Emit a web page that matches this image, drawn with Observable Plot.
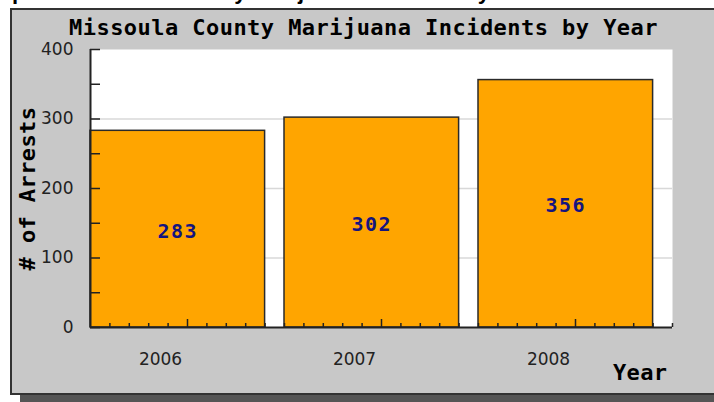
<!DOCTYPE html>
<html><head><meta charset="utf-8">
<script src="https://cdn.jsdelivr.net/npm/d3@7"></script>
<script src="https://cdn.jsdelivr.net/npm/@observablehq/plot@0.6"></script>
<style>
body{margin:0;width:714px;height:402px;overflow:hidden;background:#fff;position:relative;}
#top{position:absolute;left:-26px;top:-21px;font:bold 22px "Liberation Sans";white-space:nowrap;color:#000;}
#panel{position:absolute;left:10px;top:8px;width:720px;height:383px;background:#c8c8c8;border:2px solid #333;box-shadow:10px 8px 0 #555;}
#title{position:absolute;left:0;width:727px;top:15px;text-align:center;font:bold 22px "DejaVu Sans Mono";letter-spacing:0.45px;color:#000;white-space:nowrap;}
#chart{position:absolute;left:0;top:0;}
</style></head><body>
<div id="top">Graph 1: Missoula County Marijuana Incidents by Year</div>
<div id="panel"></div>
<div id="title">Missoula County Marijuana Incidents by Year</div>
<div id="chart"></div>
<script>
const years = ["2006", "2007", "2008"];
const arrests = [283, 302, 356];
const yTicks = [0, 100, 200, 300, 400];
const yMinorTicks = [0, 50, 100, 150, 200, 250, 300, 350, 400];
const gridValues = [100, 200, 300];
const yLabel = "# of Arrests";
const xLabel = "Year";

const data = years.map((year, i) => ({i, year, value: arrests[i]}));
const W = 714, H = 402, mL = 90, mR = 42, mT = 49, mB = 75;
const plotW = W - mL - mR, plotH = H - mT - mB;
const barFraction = 0.9;
const xMinor = d3.range(1, years.length * 10 + 1).map(k => k / 10).filter(v => Math.abs(v - Math.floor(v) - 0.5) > 1e-6);
const xMajor = years.map((_, i) => i + 0.5);

const chart = Plot.plot({
  width: W, height: H,
  marginLeft: mL, marginRight: mR, marginTop: mT, marginBottom: mB,
  style: {background: "transparent", overflow: "visible"},
  x: {type: "linear", domain: [0, years.length], axis: null},
  y: {domain: [0, 400], axis: null},
  marks: [
    Plot.frame({fill: "white", stroke: "none"}),
    Plot.gridY(gridValues, {stroke: "#d8d8d8", strokeOpacity: 1, strokeWidth: 1.5}),
    Plot.rectY(data, {x1: d => d.i, x2: d => d.i + barFraction, y: "value", fill: "#ffa500", stroke: "#2a2a2a", strokeWidth: 1.5}),
    Plot.tickY(yMinorTicks, {y: d => d, stroke: "#222", strokeWidth: 1.5, insetRight: plotW - 10}),
    Plot.tickX(xMinor, {x: d => d, stroke: "#222", strokeWidth: 1.5, insetTop: plotH - 4}),
    Plot.tickX(xMajor, {x: d => d, stroke: "#222", strokeWidth: 1.5, insetTop: plotH - 8}),
    Plot.ruleY([0], {stroke: "#222", strokeWidth: 2}),
    Plot.ruleX([0], {stroke: "#222", strokeWidth: 2}),
    Plot.axisY(yTicks, {tickSize: 0, tickPadding: 17, fontSize: 17, fontFamily: "DejaVu Sans", fill: "#222", label: null}),
    Plot.axisX(xMajor, {tickSize: 0, tickPadding: 25, tickFormat: d => years[Math.floor(d)], dx: -27, fontSize: 17, fontFamily: "DejaVu Sans", fill: "#222", label: null}),
    Plot.text(data, {x: d => d.i + barFraction / 2, y: d => d.value / 2, text: d => String(d.value), dy: 2, fill: "#14147f", fontSize: 20, fontWeight: "bold", fontFamily: "DejaVu Sans Mono"}),
    Plot.text([yLabel], {frameAnchor: "left", textAnchor: "middle", rotate: -90, dx: -63, fill: "#000", fontSize: 22, fontWeight: "bold", fontFamily: "DejaVu Sans Mono"}),
    Plot.text([xLabel], {frameAnchor: "bottom-right", textAnchor: "end", dx: -5, dy: 52, fill: "#000", fontSize: 22, fontWeight: "bold", fontFamily: "DejaVu Sans Mono"})
  ]
});
d3.select(chart).selectAll("text").each(function() {
  const t = this.textContent;
  if (t === yLabel || t === xLabel) this.style.letterSpacing = "0.4px";
  if (arrests.map(String).includes(t)) this.style.letterSpacing = "1.5px";
});
document.getElementById("chart").append(chart);
</script>
</body></html>
